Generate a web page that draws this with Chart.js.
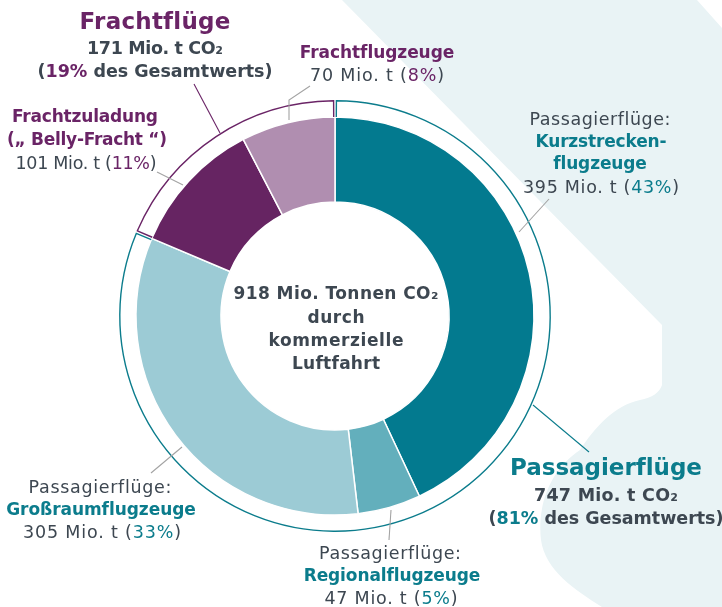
<!DOCTYPE html>
<html><head><meta charset="utf-8">
<script src="https://cdn.jsdelivr.net/npm/chart.js@4"></script>
<style>
html,body{margin:0;padding:0;background:#fff;}
#wrap{position:relative;width:722px;height:607px;overflow:hidden;font-family:"DejaVu Sans",sans-serif;color:#3d4751;}
#bg,#c{position:absolute;left:0;top:0;}
.ln{position:absolute;white-space:nowrap;transform:translateX(-50%);height:24px;line-height:24px;}
.ln span.in{display:inline-block;}
.b{font-weight:700;}
.t{color:#0b7c8c;}
.p{color:#6a2466;}
</style></head>
<body>
<div id="wrap">
<svg id="bg" width="722" height="607"><path d="M342,0 L697,0 L722,28 L722,607 L602,607 C575,590 545,570 541,540 C537,505 550,470 580,450 C595,427 615,405 640,400 C652,398 660,392 662,385 L662,325 Z" fill="#e9f3f5"/></svg>
<canvas id="c" width="722" height="607"></canvas>
<div id="labels"></div>
</div>
<script>
// ---- data ----
const categories = ["Kurzstreckenflugzeuge", "Regionalflugzeuge", "Großraumflugzeuge", "Frachtzuladung („ Belly-Fracht “)", "Frachtflugzeuge"];
const values = [395, 47, 305, 101, 70];
const shares = [43, 5, 33, 11, 8];
const groups = ["Passagierflüge", "Frachtflüge"];
const groupValues = [747, 171];
const groupShares = [81, 19];
const totalValue = 918;

// ---- styles ----
const segmentColors = ["#037a8f", "#63afbc", "#9ccbd5", "#662462", "#b08eb0"];
const groupColors = ["#0b7c8c", "#6a2466"];
const grayLine = "#a3a3a3";

const ringPlugin = {
  id: 'ring',
  afterDatasetsDraw(chart) {
    const ctx = chart.ctx;
    const meta = chart.getDatasetMeta(0);
    let cx = 0, cy = 0;
    meta.data.forEach((arc, i) => {
      const p = arc.getProps(['x', 'y', 'startAngle', 'endAngle', 'outerRadius', 'innerRadius']);
      cx = p.x; cy = p.y;
      const r = p.outerRadius - 0.8;
      const gap = 1.4 / r;
      const a0 = p.startAngle + gap, a1 = p.endAngle - gap;
      ctx.save();
      ctx.strokeStyle = groupColors[i];
      ctx.lineWidth = 1.4;
      ctx.beginPath();
      ctx.moveTo(p.x + p.innerRadius * Math.cos(a0), p.y + p.innerRadius * Math.sin(a0));
      ctx.lineTo(p.x + r * Math.cos(a0), p.y + r * Math.sin(a0));
      ctx.arc(p.x, p.y, r, a0, a1);
      ctx.lineTo(p.x + p.innerRadius * Math.cos(a1), p.y + p.innerRadius * Math.sin(a1));
      ctx.stroke();
      ctx.restore();
    });
    // leader lines (offsets from the doughnut centre)
    const leaders = [
      [grayLine, [[184, -84], [214, -117]]],
      [groupColors[0], [[198, 89], [254, 136]]],
      [grayLine, [[56, 194], [54, 224]]],
      [grayLine, [[-153, 131], [-184, 157]]],
      [grayLine, [[-152, -131], [-178, -144]]],
      [groupColors[1], [[-115, -183], [-141, -232]]],
      [grayLine, [[-46, -196], [-46, -216], [-25, -230]]]
    ];
    ctx.save();
    ctx.lineWidth = 1.1;
    leaders.forEach(([col, pts]) => {
      ctx.strokeStyle = col;
      ctx.beginPath();
      pts.forEach(([dx, dy], k) => k ? ctx.lineTo(cx + dx, cy + dy) : ctx.moveTo(cx + dx, cy + dy));
      ctx.stroke();
    });
    ctx.restore();
  }
};

new Chart(document.getElementById('c'), {
  type: 'doughnut',
  data: {
    labels: categories,
    datasets: [
      { data: groupValues, backgroundColor: 'rgba(0,0,0,0)', borderWidth: 0, hoverBorderWidth: 0, hoverOffset: 0, offset: 0, weight: 17, order: 1 },
      { data: values, backgroundColor: segmentColors, borderColor: '#ffffff', borderWidth: 1.5, hoverBorderWidth: 1.5, hoverOffset: 0, offset: 0, weight: 85, order: 0 }
    ]
  },
  options: {
    responsive: false,
    animation: false,
    events: [],
    radius: 216,
    cutout: 114,
    layout: { padding: { left: 119, right: 171, top: 100, bottom: 75 } },
    plugins: { legend: { display: false }, tooltip: { enabled: false } }
  },
  plugins: [ringPlugin]
});

// ---- text labels ----
const fmt = n => String(n);
const T = (s) => `<span class="t">${s}</span>`;
const P = (s) => `<span class="p">${s}</span>`;
const R = 17.5; // regular label size
const B = 17;   // bold label size
const H = 23;   // group title size
// [html, className, fontSize, centreX, centreY, targetWidth]
const lines = [
  // Kurzstrecken
  ["Passagierflüge:", "", R, 600, 119, 141],
  ["Kurzstrecken-", "b t", B, 601, 141, 131],
  ["flugzeuge", "b t", B, 600, 163, 93],
  [`${fmt(values[0])} Mio. t (${T(shares[0] + "%")})`, "", R, 601, 187, 156],
  // Regional
  ["Passagierflüge:", "", R, 390, 553, 142],
  ["Regionalflugzeuge", "b t", B, 392, 575, 176],
  [`${fmt(values[1])} Mio. t (${T(shares[1] + "%")})`, "", R, 391, 598, 133],
  // Großraum
  ["Passagierflüge:", "", R, 100, 487, 143],
  ["Großraumflugzeuge", "b t", B, 101, 509, 189],
  [`${fmt(values[2])} Mio. t (${T(shares[2] + "%")})`, "", R, 102, 532, 158],
  // Belly
  ["Frachtzuladung", "b p", B, 85, 116, 146],
  ["(„ Belly-Fracht “)", "b p", B, 87, 139, 160],
  [`${fmt(values[3])} Mio. t (${P(shares[3] + "%")})`, "", R, 86, 163, 141],
  // Frachtflugzeuge
  ["Frachtflugzeuge", "b p", B, 377, 52, 154],
  [`${fmt(values[4])} Mio. t (${P(shares[4] + "%")})`, "", R, 377, 75, 134],
  // Frachtflüge group
  [groups[1], "b p", H, 155, 21, 150],
  [`${fmt(groupValues[1])} Mio. t CO₂`, "b", 17.5, 155, 48, 136],
  [`(${P(groupShares[1] + "%")} des Gesamtwerts)`, "b", 17.5, 155, 71, 235],
  // Passagierflüge group
  [groups[0], "b t", H, 606, 467, 191],
  [`${fmt(groupValues[0])} Mio. t CO₂`, "b", 17.5, 606, 495, 144],
  [`(${T(groupShares[0] + "%")} des Gesamtwerts)`, "b", 17.5, 606, 518, 235],
  // centre
  [`${fmt(totalValue)} Mio. Tonnen CO₂`, "b", 17, 336, 293, 205],
  ["durch", "b", 17, 336, 317, 57],
  ["kommerzielle", "b", 17, 336, 340, 135],
  ["Luftfahrt", "b", 17, 336, 363, 88]
];
const host = document.getElementById('labels');
lines.forEach(([html, cls, fs, x, y, w]) => {
  const d = document.createElement('div');
  d.className = 'ln ' + cls;
  d.style.fontSize = fs + 'px';
  d.style.left = x + 'px';
  d.style.top = (y - 12) + 'px';
  const s = document.createElement('span');
  s.className = 'in';
  s.innerHTML = html;
  d.appendChild(s);
  host.appendChild(d);
  const m = s.getBoundingClientRect().width;
  const n = s.textContent.length;
  if (n > 1) {
    const ls = (w - m) / (n - 1);
    s.style.letterSpacing = ls.toFixed(2) + 'px';
    s.style.marginRight = (-ls).toFixed(2) + 'px';
  }
});
</script>
</body></html>
